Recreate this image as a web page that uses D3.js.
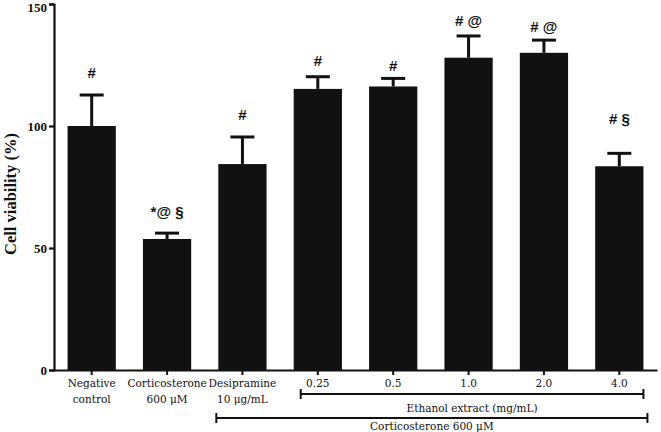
<!DOCTYPE html>
<html><head><meta charset="utf-8">
<script src="https://cdn.jsdelivr.net/npm/d3@7"></script>
<style>body{margin:0;background:#fff}svg{display:block}</style>
</head><body>
<script>
const categories = ["Negative|control","Corticosterone|600 μM","Desipramine|10 μg/mL","0.25","0.5","1.0","2.0","4.0"];
const means = [100, 53.7, 84.4, 115.2, 116.2, 128, 130, 83.5];
const errors = [12.7, 2.4, 11.1, 5.0, 3.3, 8.9, 5.2, 5.3];
const annotations = ["#","*@ §","#","#","#","# @","# @","# §"];
const annotationY = [121.7, 65, 104.5, 126.6, 124.8, 143, 140.6, 102.9];
const yTicks = [0, 50, 100, 150];

const W = 661, H = 432;
const m = {left: 54};
const svg = d3.select("body").append("svg").attr("width", W).attr("height", H);
const x = d3.scaleBand().domain(d3.range(categories.length)).range([m.left, 657]).paddingInner(0.36).paddingOuter(0.18);
const y = d3.scaleLinear().domain([0, 150]).range([370, 4]);
const ink = "#111";

// bars
svg.selectAll("rect.bar").data(means).join("rect")
  .attr("x", (d,i) => x(i)).attr("width", x.bandwidth())
  .attr("y", d => y(d)).attr("height", d => y(0) - y(d)).attr("fill", ink);

// error bars
const eb = svg.append("g").attr("stroke", ink).attr("stroke-width", 3);
means.forEach((d,i) => {
  const cx = x(i) + x.bandwidth()/2;
  eb.append("line").attr("x1", cx).attr("x2", cx).attr("y1", y(d)).attr("y2", y(d + errors[i]));
  eb.append("line").attr("x1", cx - 12).attr("x2", cx + 12).attr("y1", y(d + errors[i])).attr("y2", y(d + errors[i]));
});

// annotations
svg.selectAll("text.ann").data(annotations).join("text")
  .attr("x", (d,i) => x(i) + x.bandwidth()/2).attr("y", (d,i) => y(annotationY[i]))
  .attr("dy", "0.35em").attr("text-anchor", "middle")
  .attr("font-family", "Liberation Sans, Arial, sans-serif").attr("font-weight", "bold").attr("font-size", 15)
  .attr("fill", ink).text(d => d);

// y axis
const ya = svg.append("g").attr("transform", `translate(${m.left},0)`)
  .call(d3.axisLeft(y).tickValues(yTicks).tickSize(5).tickPadding(2).tickFormat(d3.format("d")));
ya.select(".domain").attr("stroke", ink).attr("stroke-width", 2.2);
ya.selectAll(".tick line").attr("stroke", ink).attr("stroke-width", 2.2);
ya.selectAll(".tick text").attr("font-family", "Liberation Serif, serif").attr("font-weight", "bold").attr("font-size", 13).attr("fill", ink)
  .attr("dy", d => d === 150 ? "0.55em" : "0.32em");

// x axis
const xa = svg.append("g").attr("transform", `translate(0,${y(0)})`)
  .call(d3.axisBottom(x).tickSize(5).tickSizeOuter(0).tickFormat(""));
xa.select(".domain").attr("stroke", ink).attr("stroke-width", 2.2);
xa.selectAll(".tick line").attr("stroke", ink).attr("stroke-width", 2);
categories.forEach((c,i) => {
  const lines = c.split("|");
  lines.forEach((t,j) => {
    svg.append("text").attr("x", x(i) + x.bandwidth()/2).attr("y", 387 + j*16)
      .attr("text-anchor", "middle").attr("font-family", "DejaVu Serif, serif").attr("font-size", 10.5)
      .attr("fill", ink).text(t);
  });
});

// brackets
function bracket(i0, i1, yy, x0off, x1off, label, ly) {
  const xs = x(i0) + x0off, xe = x(i1) + x.bandwidth() + x1off;
  const g = svg.append("g").attr("stroke", ink).attr("stroke-width", 2);
  g.append("line").attr("x1", xs).attr("x2", xe).attr("y1", yy).attr("y2", yy);
  g.append("line").attr("x1", xs).attr("x2", xs).attr("y1", yy - 5).attr("y2", yy + 5);
  g.append("line").attr("x1", xe).attr("x2", xe).attr("y1", yy - 5).attr("y2", yy + 5);
  svg.append("text").attr("x", (xs + xe)/2).attr("y", ly).attr("text-anchor", "middle")
    .attr("font-family", "DejaVu Serif, serif").attr("font-size", 10.5).attr("fill", ink).text(label);
}
bracket(3, 7, 394, 7, 0, "Ethanol extract (mg/mL)", 412);
bracket(2, 7, 418, -2, 4, "Corticosterone 600 μM", 430);

// y label
svg.append("text").attr("transform", "translate(16,194) rotate(-90)").attr("text-anchor", "middle")
  .attr("font-family", "Liberation Serif, serif").attr("font-weight", "bold").attr("font-size", 16.5)
  .attr("fill", ink).text("Cell viability (%)");
</script>
</body></html>
